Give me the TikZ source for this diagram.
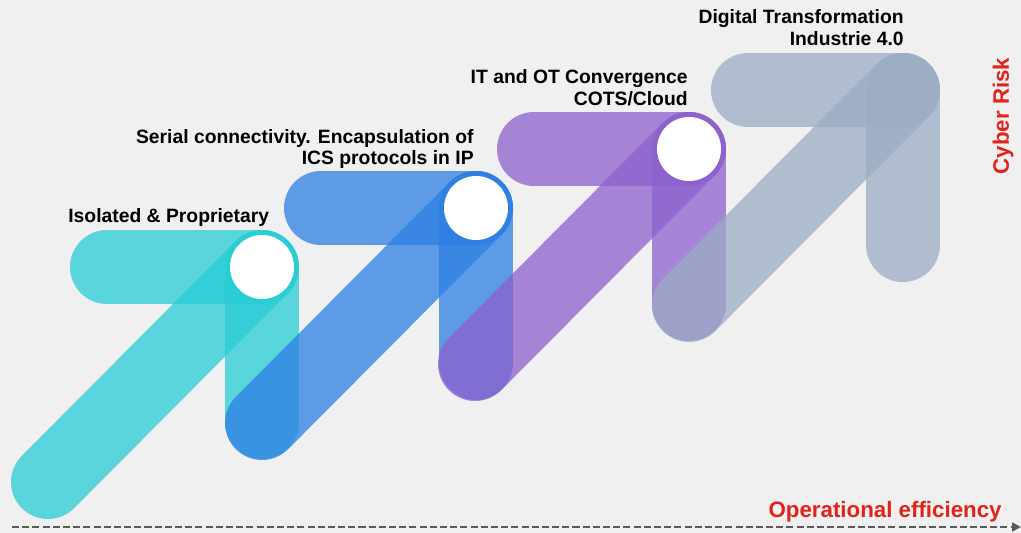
\documentclass[tikz,border=0pt]{standalone}
\usepackage{fontspec}
\setmainfont{Liberation Sans}
\usetikzlibrary{calc,arrows.meta}
\definecolor{paper}{HTML}{F0F0F0}
\definecolor{stagecyan}{HTML}{28CDD5}
\definecolor{stageblue}{HTML}{2D7FE3}
\definecolor{stagepurple}{HTML}{8C60CD}
\definecolor{stagegray}{HTML}{9BACC4}
\definecolor{axisred}{HTML}{E2231A}
\definecolor{axisgray}{HTML}{5A5A5A}

\tikzset{
  bar/.style={line width=1.48cm, line cap=round, draw opacity=0.75},
  hole/.style={circle, fill=white, minimum size=1.28cm, inner sep=0pt},
  stagelabel/.style={font=\bfseries\fontsize{11}{12.5}\selectfont, align=right, inner sep=0pt},
  axislabel/.style={font=\bfseries\fontsize{12.7}{14}\selectfont, text=axisred, inner sep=0pt},
  axisline/.style={draw=axisgray, line width=1.4pt, dash pattern=on 4pt off 1.8pt, -{Triangle[length=5pt,width=5pt]}}
}

\begin{document}
\begin{tikzpicture}[x=0.02cm, y=-0.02cm]
\fill[paper] (0,0) rectangle (1021,533);
\useasboundingbox (0,0) rectangle (1021,533);

% corners of the four stages
\coordinate (c1) at (262,267);
\coordinate (c2) at (476,208);
\coordinate (c3) at (689,149);
\coordinate (c4) at (903,90);

% stage 1
\draw[bar, stagecyan] (c1) -- ($(c1)+(-155,0)$);
\draw[bar, stagecyan] (c1) -- ($(c1)+(0,155)$);
\draw[bar, stagecyan] (c1) -- ($(c1)+(-214,215)$);
\node[hole] (hole1) at (c1) {};

% stage 2
\draw[bar, stageblue] (c2) -- ($(c2)+(-155,0)$);
\draw[bar, stageblue] (c2) -- ($(c2)+(0,155)$);
\draw[bar, stageblue] (c2) -- ($(c2)+(-214,215)$);
\node[hole] (hole2) at (c2) {};

% stage 3
\draw[bar, stagepurple] (c3) -- ($(c3)+(-155,0)$);
\draw[bar, stagepurple] (c3) -- ($(c3)+(0,155)$);
\draw[bar, stagepurple] (c3) -- ($(c3)+(-214,215)$);
\node[hole] (hole3) at (c3) {};

% stage 4
\draw[bar, stagegray] (c4) -- ($(c4)+(-155,0)$);
\draw[bar, stagegray] (c4) -- ($(c4)+(0,155)$);
\draw[bar, stagegray] (c4) -- ($(c4)+(-214,215)$);

% labels
\node[stagelabel, anchor=base west] (isolated) at (68,223) {Isolated \& Proprietary};
\node[stagelabel, anchor=east] (serial) at (474,149) {Serial connectivity. Encapsulation of\\ICS protocols in IP};
\node[stagelabel, anchor=east] (convergence) at (688,88) {IT and OT Convergence\\COTS/Cloud};
\node[stagelabel, anchor=east] (digital) at (904,28) {Digital Transformation\\Industrie 4.0};

% axes
\coordinate (xstart) at (12,527);
\coordinate (xend) at (1021,527);
\draw[axisline] (xstart) -- (xend);
\node[axislabel, anchor=base east] (efficiency) at (1002,517) {Operational efficiency};
\node[axislabel, rotate=90] (risk) at (1003,116) {Cyber Risk};
\end{tikzpicture}
\end{document}
